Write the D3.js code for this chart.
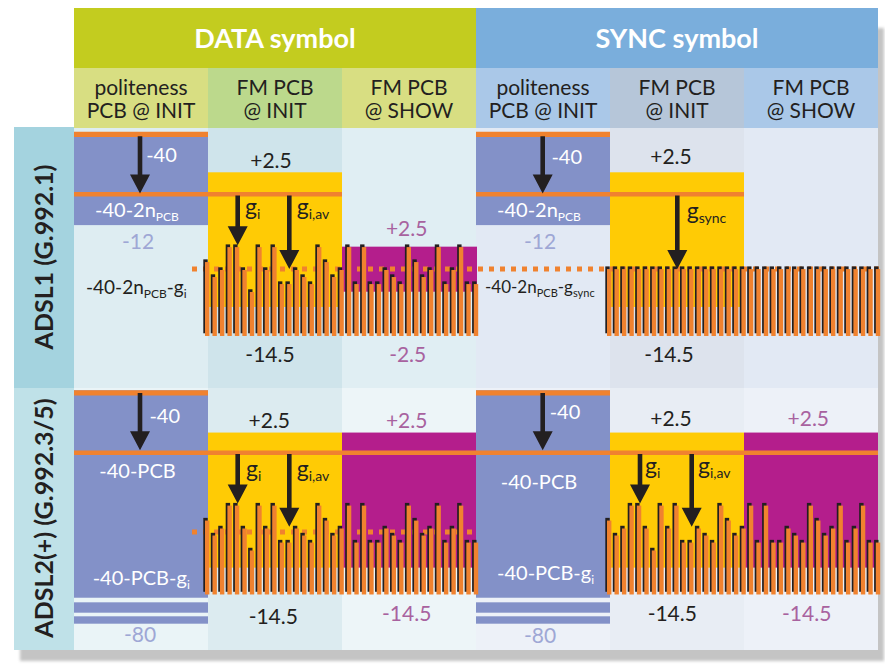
<!DOCTYPE html>
<html><head><meta charset="utf-8">
<script src="https://cdn.jsdelivr.net/npm/d3@7"></script>
<style>body{margin:0;background:#fff}svg{display:block;font-family:Lato,'Open Sans',sans-serif}</style>
</head><body><svg id="c" width="885" height="664"></svg>
<script>
// ---------- data ----------
const groups = ["DATA symbol", "SYNC symbol"];
const columns = ["dPol", "dInit", "dShow", "sPol", "sInit", "sShow"];
const subHeaders = [["politeness","PCB @ INIT"],["FM PCB","@ INIT"],["FM PCB","@ SHOW"],
                    ["politeness","PCB @ INIT"],["FM PCB","@ INIT"],["FM PCB","@ SHOW"]];
const rowLabels = ["ADSL1 (G.992.1)", "ADSL2(+) (G.992.3/5)"];
// per-tone gains (dB relative to the reference line)
const adsl1DataGains = [-7.7,-9.4,-8.6,-6.0,-6.0,-8.6,-11.1,-6.0,-8.6,-6.0,-10.2,-10.2,-8.6,-9.4,-10.2,-6.0,-7.7,-9.4,-8.6,
                        -6.0,-10.2,-6.0,-10.2,-10.2,-8.6,-9.4,-10.2,-6.0,-7.7,-9.4,-8.6,-6.0,-10.2,-8.6,-6.0,-10.2,-10.2];
const adsl1SyncGains = [-8.5,-8.5,-8.5,-8.5,-8.5,-8.5,-8.5,-8.5,-8.5,-8.5,-8.5,-8.5,-8.5,-8.5,-8.5,-8.5,-8.5,-8.5,-8.5,
                        -8.5,-8.5,-8.5,-8.5,-8.5,-8.5,-8.5,-8.5,-8.5,-8.5,-8.5,-8.5,-8.5,-8.5,-8.5,-8.5,-8.5,-8.5];
const adsl2DataGains = [-7.7,-9.4,-8.6,-6.0,-6.0,-8.6,-11.1,-6.0,-8.6,-6.0,-10.2,-10.2,-8.6,-9.4,-10.2,-6.0,-7.7,-9.4,-8.6,
                        -6.0,-10.2,-6.0,-10.2,-10.2,-8.6,-9.4,-10.2,-6.0,-7.7,-9.4,-8.6,-6.0,-10.2,-8.6,-6.0,-10.2,-10.2];
const adsl2SyncGains = [-7.7,-9.4,-8.6,-6.0,-6.0,-8.6,-11.1,-6.0,-8.6,-6.0,-10.2,-10.2,-8.6,-9.4,-10.2,-6.0,-7.7,-9.4,-8.6,
                        -6.0,-10.2,-6.0,-10.2,-10.2,-8.6,-9.4,-10.2,-6.0,-7.7,-9.4,-8.6,-6.0,-10.2,-8.6,-6.0,-10.2,-10.2];
const barBase = -16.1;
const avgGain = [-8.5, -9.0];        // dotted g_i,av line per row
const avgLineEnd = ["sShow", "dShow"]; // last column covered by dotted line

// ---------- styles ----------
const C = {orange:"#f0822f", purple:"#8391c8", yellow:"#ffcb05", magenta:"#b41e8c", black:"#231f20",
           dark:"#231f20", white:"#ffffff", lp:"#9ea7d5", mg:"#a8629f"};
const groupFill = ["#c3cc1f", "#7aaedc"];
const subFill = ["#d8de82","#bcd98c","#d8de82","#aac8e8","#b6c6d9","#aac8e8"];
const rowBg = [["#deedf2","#cfe4eb","#e0eef3","#e2e9f4","#dde3ed","#e2e9f4"],
               ["#eaf4f7","#dcebf0","#edf5f8","#edf1f8","#e8edf4","#edf1f8"]];
const labelBg = ["#a4d3df", "#bfe1e8"];

const svg = d3.select("#c");
const x = d3.scaleBand().domain(columns).range([74, 878]);
const cw = x.bandwidth();
const rowTop = [128, 388], rowBot = [388, 650];
const refY = [194.3, 452.8];
const y = refY.map(r => d3.scaleLinear().domain([0, 2.5]).range([r, r - 22]));

// shadow
const defs = svg.append("defs");
defs.append("filter").attr("id","blur").attr("x","-5%").attr("y","-5%").attr("width","110%").attr("height","110%")
  .append("feGaussianBlur").attr("stdDeviation", 1.5);
const sh = svg.append("g").attr("filter","url(#blur)");
sh.append("rect").attr("x",80).attr("y",28).attr("width",804).attr("height",633).attr("fill","#c4c4c4");
sh.append("rect").attr("x",20).attr("y",140).attr("width",70).attr("height",521).attr("fill","#c4c4c4");

// header
groups.forEach((g,i) => {
  const c0 = columns[i*3];
  svg.append("rect").attr("x", x(c0)).attr("y", 8).attr("width", cw*3).attr("height", 60).attr("fill", groupFill[i]);
  svg.append("text").attr("x", x(c0) + cw*1.5).attr("y", 48).attr("text-anchor","middle")
    .attr("fill","#fff").attr("font-weight",700).attr("font-size",27).text(g);
});
columns.forEach((c,i) => {
  svg.append("rect").attr("x", x(c)).attr("y", 68).attr("width", cw).attr("height", 60).attr("fill", subFill[i]);
  const t = svg.append("text").attr("text-anchor","middle").attr("fill",C.dark).attr("font-size",21);
  t.append("tspan").attr("x", x(c)+cw/2).attr("y", 95).text(subHeaders[i][0]);
  t.append("tspan").attr("x", x(c)+cw/2).attr("y", 118).text(subHeaders[i][1]);
});

// row backgrounds & labels
rowLabels.forEach((lab, r) => {
  svg.append("rect").attr("x",14).attr("y",rowTop[r] - (r===0?1:0)).attr("width",60)
    .attr("height",rowBot[r]-rowTop[r] + (r===0?1:0)).attr("fill",labelBg[r]);
  columns.forEach((c,i) => svg.append("rect").attr("x",x(c)).attr("y",rowTop[r]).attr("width",cw)
    .attr("height",rowBot[r]-rowTop[r]).attr("fill",rowBg[r][i]));
  const cy = (rowTop[r]+rowBot[r])/2 - 1;
  svg.append("text").attr("transform",`translate(44,${cy}) rotate(-90)`).attr("text-anchor","middle")
    .attr("dy","0.36em").attr("fill",C.dark).attr("font-weight",700).attr("font-size",25).text(lab);
});

// coloured boxes {row, col, top, bottom, fill, extra width}
const boxes = [
  {r:0,c:"dInit",t:2.5,b:-12.8,f:C.yellow,w:0},
  {r:0,c:"sInit",t:2.5,b:-12.8,f:C.yellow,w:0},
  {r:0,c:"dShow",t:-5.95,b:-11.07,f:C.magenta,w:1},
  {r:1,c:"dInit",t:2.3,b:-13.05,f:C.yellow,w:0},
  {r:1,c:"dShow",t:2.3,b:-13.05,f:C.magenta,w:1},
  {r:1,c:"sInit",t:2.3,b:-13.05,f:C.yellow,w:0},
  {r:1,c:"sShow",t:2.3,b:-13.05,f:C.magenta,w:0},
  {r:0,c:"dPol",t:7.08,b:-3.5,f:C.purple,w:0},
  {r:0,c:"sPol",t:7.08,b:-3.5,f:C.purple,w:0},
  {r:1,c:"dPol",t:7.1,b:-16.47,f:C.purple,w:0},
  {r:1,c:"dPol",t:-16.99,b:-18.17,f:C.purple,w:0},
  {r:1,c:"dPol",t:-18.58,b:-19.42,f:C.purple,w:0},
  {r:1,c:"sPol",t:7.1,b:-16.47,f:C.purple,w:0},
  {r:1,c:"sPol",t:-16.99,b:-18.17,f:C.purple,w:0},
  {r:1,c:"sPol",t:-18.58,b:-19.42,f:C.purple,w:0},
];
svg.append("g").selectAll("rect").data(boxes).join("rect")
  .attr("x", d => x(d.c)).attr("width", d => cw + d.w)
  .attr("y", d => y[d.r](d.t)).attr("height", d => y[d.r](d.b) - y[d.r](d.t)).attr("fill", d => d.f);

// dotted average lines
avgGain.forEach((g, r) => {
  svg.append("line").attr("x1", 192).attr("x2", x(avgLineEnd[r]) + cw + 2)
    .attr("y1", y[r](g)).attr("y2", y[r](g)).attr("stroke", C.orange).attr("stroke-width", 5)
    .attr("stroke-dasharray","5,6");
});

// bars
const barSets = [
  {r:0, c:"dInit", v:adsl1DataGains},
  {r:0, c:"sInit", v:adsl1SyncGains},
  {r:1, c:"dInit", v:adsl2DataGains},
  {r:1, c:"sInit", v:adsl2SyncGains},
];
const bw = 4.4;
barSets.forEach(s => {
  const xb = d3.scaleLinear().domain([0, s.v.length - 1]).range([x(s.c) - 3, x(s.c) - 3 + 268.8]);
  const yy = y[s.r];
  const g = svg.append("g");
  s.v.forEach((v, i) => {
    g.append("rect").attr("x", xb(i) - 1.7).attr("y", yy(v) - 2.7).attr("width", bw)
      .attr("height", yy(barBase) - yy(v)).attr("fill", C.black);
    g.append("rect").attr("x", xb(i)).attr("y", yy(v)).attr("width", bw)
      .attr("height", yy(barBase) - yy(v)).attr("fill", C.orange);
  });
});

// orange reference lines {row, from col, to col, value}
const refLines = [
  {r:0,a:"dPol",b:"dPol",v:6.8},{r:0,a:"sPol",b:"sPol",v:6.8},
  {r:0,a:"dPol",b:"dInit",v:0},{r:0,a:"sPol",b:"sInit",v:0},
  {r:1,a:"dPol",b:"dPol",v:6.8},{r:1,a:"sPol",b:"sPol",v:6.8},
  {r:1,a:"dPol",b:"sShow",v:0},
];
svg.append("g").selectAll("line").data(refLines).join("line")
  .attr("x1", d => x(d.a)).attr("x2", d => x(d.b) + cw)
  .attr("y1", d => y[d.r](d.v)).attr("y2", d => y[d.r](d.v))
  .attr("stroke", C.orange).attr("stroke-width", d => d.v === 0 ? 4.5 : 5.2);

// arrows {row, col, dx, from, to}
const arrows = [
  {r:0,c:"dPol",dx:66,f:6.6,t:0.1},{r:0,c:"dInit",dx:29.7,f:-0.15,t:-5.8},{r:0,c:"dInit",dx:81.3,f:-0.15,t:-8.5},
  {r:0,c:"sPol",dx:66.7,f:6.6,t:0.1},{r:0,c:"sInit",dx:67.3,f:-0.15,t:-8.5},
  {r:1,c:"dPol",dx:66,f:6.8,t:0.3},{r:1,c:"dInit",dx:29.7,f:-0.15,t:-5.75},{r:1,c:"dInit",dx:81.3,f:-0.15,t:-8.4},
  {r:1,c:"sPol",dx:66.7,f:6.8,t:0.3},{r:1,c:"sInit",dx:30,f:-0.15,t:-5.75},{r:1,c:"sInit",dx:81.7,f:-0.15,t:-8.4},
];
svg.append("g").selectAll("path").data(arrows).join("path")
  .attr("fill", C.black)
  .attr("d", d => {
    const ax = x(d.c) + d.dx, y0 = y[d.r](d.f), y1 = y[d.r](d.t), hl = 19, hw = 10, sw = 2.3;
    return `M${ax-sw},${y0}L${ax+sw},${y0}L${ax+sw},${y1-hl}L${ax+hw},${y1-hl}L${ax},${y1}L${ax-hw},${y1-hl}L${ax-sw},${y1-hl}Z`;
  });

// text labels {row, col, dx, dy (px from ref line), anchor, colour, size, parts}
const S = (t) => ({t, sub:true});
const labels = [
  // ADSL1 DATA
  {r:0,c:"dPol",dx:87.5,dy:-32,a:"middle",col:C.white,s:20,p:["-40"]},
  {r:0,c:"dInit",dx:63,dy:-26.6,a:"middle",col:C.dark,s:21,p:["+2.5"]},
  {r:0,c:"dPol",dx:21,dy:22.4,a:"start",col:C.white,s:20,p:["-40-2n",S("PCB")]},
  {r:0,c:"dPol",dx:64,dy:54.7,a:"middle",col:C.lp,s:21,p:["-12"]},
  {r:0,c:"dInit",dx:37,dy:20.5,a:"start",col:C.dark,s:23,p:["g",S("i")]},
  {r:0,c:"dInit",dx:88.7,dy:20.5,a:"start",col:C.dark,s:23,p:["g",S("i,av")]},
  {r:0,c:"dShow",dx:64.7,dy:41.7,a:"middle",col:C.mg,s:21,p:["+2.5"]},
  {r:0,c:"dPol",dx:12,dy:100,a:"start",col:C.dark,s:19,p:["-40-2n",S("PCB"),"-g",S("i")]},
  {r:0,c:"dInit",dx:62,dy:168,a:"middle",col:C.dark,s:21,p:["-14.5"]},
  {r:0,c:"dShow",dx:65.7,dy:167.7,a:"middle",col:C.mg,s:21,p:["-2.5"]},
  // ADSL1 SYNC
  {r:0,c:"sPol",dx:90.7,dy:-30.3,a:"middle",col:C.white,s:20,p:["-40"]},
  {r:0,c:"sInit",dx:61,dy:-30,a:"middle",col:C.dark,s:21,p:["+2.5"]},
  {r:0,c:"sPol",dx:21,dy:23,a:"start",col:C.white,s:20,p:["-40-2n",S("PCB")]},
  {r:0,c:"sPol",dx:64,dy:54.7,a:"middle",col:C.lp,s:21,p:["-12"]},
  {r:0,c:"sInit",dx:76.7,dy:24.7,a:"start",col:C.dark,s:23,p:["g",S("sync")]},
  {r:0,c:"sPol",dx:9,dy:99,a:"start",col:C.dark,s:17,p:["-40-2n",S("PCB"),"-g",S("sync")]},
  {r:0,c:"sInit",dx:59,dy:168,a:"middle",col:C.dark,s:21,p:["-14.5"]},
  // ADSL2 DATA
  {r:1,c:"dPol",dx:90.7,dy:-29.5,a:"middle",col:C.white,s:20,p:["-40"]},
  {r:1,c:"dInit",dx:61.3,dy:-24.5,a:"middle",col:C.dark,s:21,p:["+2.5"]},
  {r:1,c:"dShow",dx:64.7,dy:-25.1,a:"middle",col:C.mg,s:21,p:["+2.5"]},
  {r:1,c:"dPol",dx:63.5,dy:25.5,a:"middle",col:C.white,s:20,p:["-40-PCB"]},
  {r:1,c:"dInit",dx:38,dy:23.9,a:"start",col:C.dark,s:23,p:["g",S("i")]},
  {r:1,c:"dInit",dx:88.7,dy:23.9,a:"start",col:C.dark,s:23,p:["g",S("i,av")]},
  {r:1,c:"dPol",dx:18.7,dy:132.2,a:"start",col:C.white,s:20,p:["-40-PCB-g",S("i")]},
  {r:1,c:"dInit",dx:65.3,dy:171.5,a:"middle",col:C.dark,s:21,p:["-14.5"]},
  {r:1,c:"dShow",dx:64.7,dy:168.2,a:"middle",col:C.mg,s:21,p:["-14.5"]},
  {r:1,c:"dPol",dx:66,dy:188.9,a:"middle",col:C.lp,s:21,p:["-80"]},
  // ADSL2 SYNC
  {r:1,c:"sPol",dx:89,dy:-33.8,a:"middle",col:C.white,s:20,p:["-40"]},
  {r:1,c:"sInit",dx:61,dy:-27.1,a:"middle",col:C.dark,s:21,p:["+2.5"]},
  {r:1,c:"sShow",dx:64.3,dy:-27.1,a:"middle",col:C.mg,s:21,p:["+2.5"]},
  {r:1,c:"sPol",dx:63,dy:36.2,a:"middle",col:C.white,s:20,p:["-40-PCB"]},
  {r:1,c:"sInit",dx:35,dy:21.5,a:"start",col:C.dark,s:23,p:["g",S("i")]},
  {r:1,c:"sInit",dx:88,dy:21.5,a:"start",col:C.dark,s:23,p:["g",S("i,av")]},
  {r:1,c:"sPol",dx:21,dy:127.2,a:"start",col:C.white,s:20,p:["-40-PCB-g",S("i")]},
  {r:1,c:"sInit",dx:62.3,dy:168.2,a:"middle",col:C.dark,s:21,p:["-14.5"]},
  {r:1,c:"sShow",dx:62.7,dy:168.2,a:"middle",col:C.mg,s:21,p:["-14.5"]},
  {r:1,c:"sPol",dx:64,dy:190.5,a:"middle",col:C.lp,s:21,p:["-80"]},
];
labels.forEach(L => {
  const t = svg.append("text").attr("x", x(L.c) + L.dx).attr("y", y[L.r](0) + L.dy)
    .attr("text-anchor", L.a).attr("fill", L.col).attr("font-size", L.s);
  let down = false;
  L.p.forEach(part => {
    const isSub = typeof part === "object";
    const ts = t.append("tspan").text(isSub ? part.t : part);
    if (isSub) { ts.attr("font-size", Math.round(L.s * 0.62)); if (!down) { ts.attr("dy", 4); down = true; } }
    else if (down) { ts.attr("dy", -4); down = false; }
  });
});
</script>
</body></html>
